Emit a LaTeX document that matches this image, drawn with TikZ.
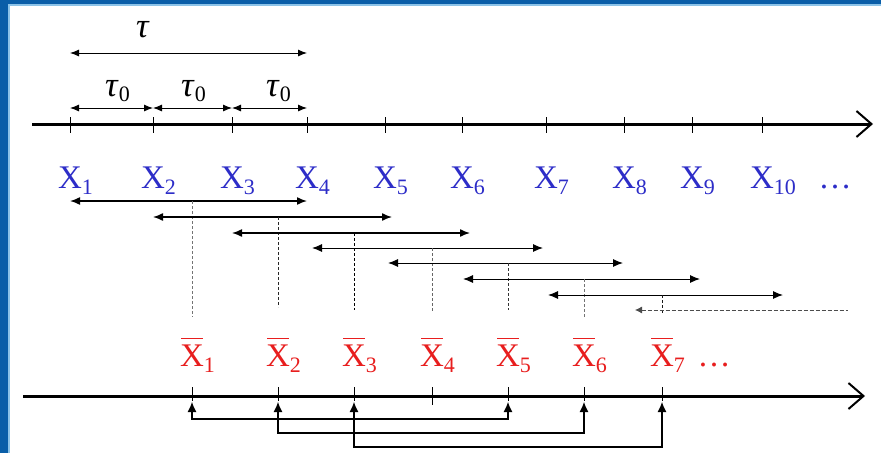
\documentclass[tikz,border=0pt]{standalone}
\usepackage{fontspec}
\setmainfont{Liberation Serif}
\usetikzlibrary{arrows.meta,calc}
\definecolor{frameblue}{RGB}{10,94,168}
\definecolor{framelight}{RGB}{140,195,232}
\definecolor{lblblue}{RGB}{45,45,200}
\definecolor{lblred}{RGB}{232,30,30}
% label helpers: the subscript is kept out of the node width so the X sits on its tick
\newcommand\subx[1]{X\rlap{\raisebox{-6pt}{\fontsize{22}{22}\selectfont #1}}}
\newcommand\barx[1]{\rlap{\hspace{1pt}\raisebox{27pt}{\rule{22pt}{1.5pt}}}X\rlap{\raisebox{-6pt}{\fontsize{22}{22}\selectfont #1}}}
\newcommand\tauz{\textit{τ}\rlap{\raisebox{-5pt}{\fontsize{22}{22}\selectfont 0}}}
\tikzset{
  axisline/.style={line width=3pt,-{Straight Barb[length=15pt,width=26pt,line width=2pt]}},
  tickline/.style={line width=0.9pt},
  span/.style={{Latex[length=10pt,width=8pt]}-{Latex[length=10pt,width=8pt]}},
  thinspan/.style={line width=0.9pt,{Latex[length=9pt,width=7pt]}-{Latex[length=9pt,width=7pt]}},
  midline/.style={line width=0.8pt,dashed,dash pattern=on 3pt off 2pt},
  bracket/.style={line width=1.1pt,{Latex[length=10pt,width=9pt]}-{Latex[length=10pt,width=9pt]}},
  toplab/.style={text=lblblue,font=\fontsize{33}{33}\selectfont,anchor=base,inner sep=0pt},
  botlab/.style={text=lblred,font=\fontsize{33}{33}\selectfont,anchor=base,inner sep=0pt},
  taulab/.style={font=\fontsize{35}{35}\selectfont,anchor=base,inner sep=0pt},
}
\begin{document}
\begin{tikzpicture}[x=1pt,y=-1pt]
\useasboundingbox (0,0) rectangle (881,453);
% slide frame
\fill[white] (0,0) rectangle (881,453);
\fill[frameblue] (0,0) rectangle (881,4);
\fill[framelight] (8,4) rectangle (881,5.5);
\fill[frameblue] (0,0) rectangle (8,453);
\fill[framelight] (8,5.5) rectangle (9.5,453);

% ---- upper time axis: samples X_i
\coordinate (ua) at (32,124);
\coordinate (ub) at (873,124);
\draw[axisline] (ua) -- (ub);
\foreach \i/\x in {1/70,2/153,3/232,4/307,5/385,6/462,7/546,8/624,9/692,10/762}{
  \coordinate (t\i) at (\x,124);
  \draw[tickline] (\x,117) -- (\x,133);
  \node[toplab] (x\i) at (\x,188) {\subx{\i}};
}
\node[toplab] (xdots) at (835,188) {\dots};

% ---- tau and tau_0 spans
\coordinate (tl) at (70,53);
\coordinate (tr) at (307,53);
\draw[thinspan] (tl) -- (tr);
\node[taulab] (tau) at (143,37) {\textit{τ}};
\coordinate (s1) at (70,108);
\coordinate (s2) at (153,108);
\coordinate (s3) at (232,108);
\coordinate (s4) at (307,108);
\draw[thinspan] (s1) -- (s2);
\draw[thinspan] (s2) -- (s3);
\draw[thinspan] (s3) -- (s4);
\node[taulab] (tz1) at (112,96) {\tauz};
\node[taulab] (tz2) at (188,96) {\tauz};
\node[taulab] (tz3) at (273,96) {\tauz};

% ---- sliding windows and their centres
\foreach \i/\a/\b/\y/\m/\e/\w/\g in {
  1/70/307/201/192/317/1.5/55,
  2/153/392/217/278/307/1.4/85,
  3/232/470/233/354/310/1.4/100,
  4/312/543/248/432/311/1.0/60,
  5/388/623/263/508/310/1.0/80,
  6/463/700/279/584/318/1.0/55,
  7/548/783/295/662/313/1.0/90}{
  \coordinate (wl\i) at (\a,\y);
  \coordinate (wr\i) at (\b,\y);
  \coordinate (wm\i) at (\m,\y);
  \coordinate (we\i) at (\m,\e);
  \draw[span,line width=\w pt] (wl\i) -- (wr\i);
  \draw[midline,black!\g] (wm\i) -- (we\i);
}
\coordinate (wl8) at (635,310);
\coordinate (wr8) at (848,310);
\draw[line width=0.8pt,black!70,dashed,dash pattern=on 4pt off 2pt,{Latex[length=7pt,width=7pt]}-] (wl8) -- (wr8);

% ---- lower time axis: window means
\coordinate (la) at (23,396);
\coordinate (lb) at (865,396);
\draw[axisline] (la) -- (lb);
\foreach \i/\x in {1/192,2/278,3/354,4/432,5/508,6/584,7/662}{
  \coordinate (m\i) at (\x,396);
  \draw[tickline] (\x,387) -- (\x,401);
  \node[botlab] (xb\i) at (\x,366) {\barx{\i}};
}
\draw[tickline] (432,401) -- (432,405);
\node[botlab] (xbdots) at (714,366) {\dots};

% ---- pairs of means compared below the axis
\foreach \i/\j/\y in {1/5/419,2/6/433,3/7/447}{
  \coordinate (pa\i) at ($(m\i)+(0,6)$);
  \coordinate (pb\i) at ($(m\j)+(0,6)$);
  \draw[bracket] (pa\i) -- (pa\i |- 0,\y) -- (pb\i |- 0,\y) -- (pb\i);
}
\end{tikzpicture}
\end{document}
